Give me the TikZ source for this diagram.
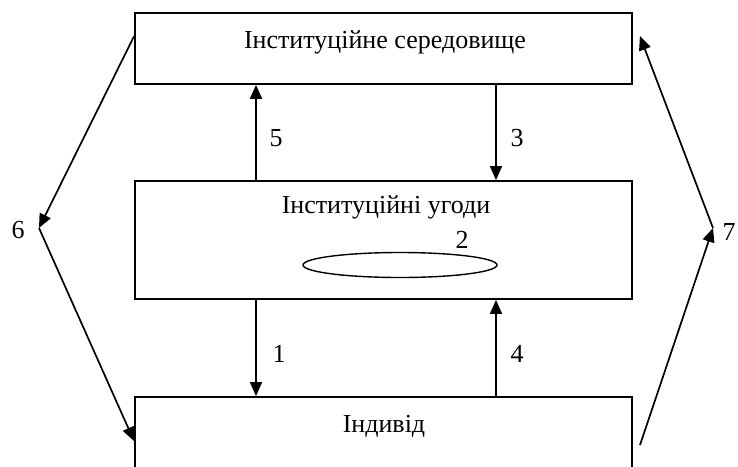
\documentclass[tikz,border=0pt]{standalone}
\usepackage{fontspec}
\setmainfont{Liberation Serif}
\usetikzlibrary{arrows.meta,calc,shapes.geometric}
\begin{document}
\begin{tikzpicture}[x=1pt,y=-1pt,
  boxnode/.style={draw,line width=1.8pt,minimum width=497pt,inner sep=0pt},
  lbl/.style={font=\fontsize{26}{31}\selectfont,inner sep=0pt},
  arr/.style={line width=1.7pt,-{Triangle[length=14pt,width=12pt]}}]
\useasboundingbox (0,0) rectangle (738,466);
\clip (0,0) rectangle (738,466);
% boxes
\node[boxnode,minimum height=71pt] (t) at (383.5,48.5) {};
\node[boxnode,minimum height=118pt] (m) at (383.5,240) {};
\node[boxnode,minimum height=100pt] (b) at (383.5,447) {};
% texts
\node[lbl] (tt) at (385,42) {Інституційне середовище};
\node[lbl] (mt) at (386,207) {Інституційні угоди};
\node[lbl] (bt) at (384,426) {Індивід};
% ellipse and its label
\node[draw,ellipse,line width=1.4pt,minimum width=194pt,minimum height=25pt,inner sep=0pt] (e) at (400,265) {};
\node[lbl] (n2) at (462,240) {2};
% vertical arrows
\coordinate (cl) at (256,0);
\coordinate (cr) at (496,0);
\draw[arr] (m.north -| cl) -- (t.south -| cl);
\draw[arr] (t.south -| cr) -- (m.north -| cr);
\draw[arr] (m.south -| cl) -- (b.north -| cl);
\draw[arr] (b.north -| cr) -- (m.south -| cr);
\node[lbl] (n5) at (276,138) {5};
\node[lbl] (n3) at (517,138) {3};
\node[lbl] (n1) at (279,354) {1};
\node[lbl] (n4) at (517,354) {4};
% left loop 6
\coordinate (v6) at (39,228);
\draw[arr] ($(t.north west)+(0,24)$) -- (v6);
\draw[arr] (v6) -- ($(b.north west)+(0,45)$);
\node[lbl] (n6) at (18,230) {6};
% right loop 7
\coordinate (s7) at (640,445);
\coordinate (v7) at (713,228);
\draw[arr] (s7) -- (v7);
\draw[arr] (v7) -- ($(t.north east)+(7,24)$);
\node[lbl] (n7) at (729,232) {7};
\end{tikzpicture}
\end{document}
